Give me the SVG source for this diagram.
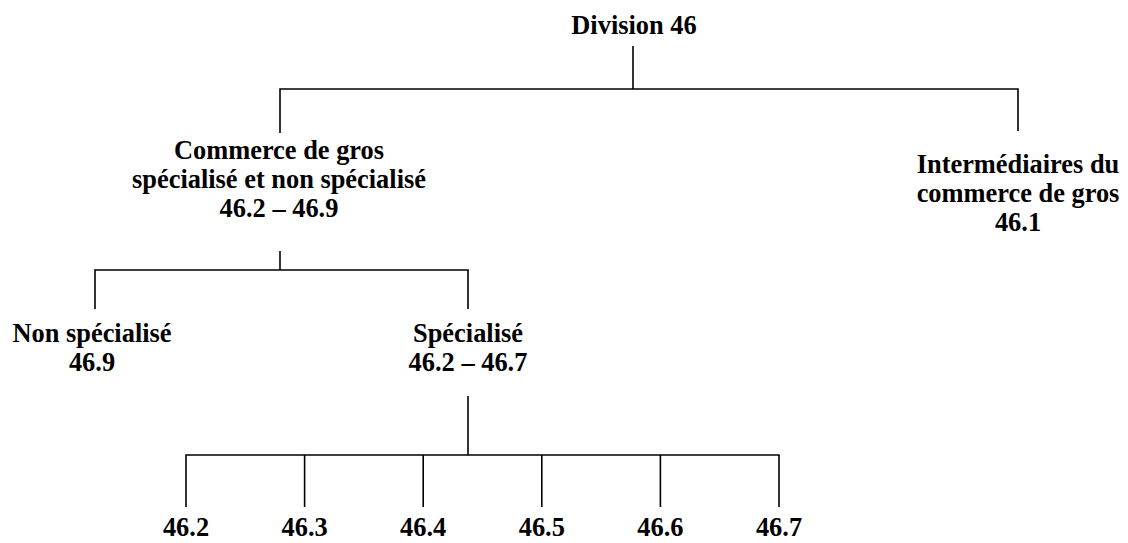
<svg xmlns="http://www.w3.org/2000/svg" width="1128" height="543" viewBox="0 0 1128 543">
  <style>
    .t { font-family: "Liberation Serif", "Times New Roman", serif; font-weight: bold; font-size: 26.4px; fill: #000; text-anchor: middle; }
    .c { stroke: #000; stroke-width: 1.6; fill: none; }
  </style>
  <rect width="1128" height="543" fill="#fff"/>
  <g id="connectors" class="c">
    <path d="M633 46 V89"/>
    <path d="M280 133 V89 H1018 V131"/>
    <path d="M280 251 V270"/>
    <path d="M95 309 V270 H468 V309"/>
    <path d="M468 396 V455"/>
    <path d="M186 507 V455 H779 V507"/>
    <path d="M304.6 455 V507"/>
    <path d="M423.2 455 V507"/>
    <path d="M541.8 455 V507"/>
    <path d="M660.4 455 V507"/>
  </g>
  <g id="division46"><text class="t" x="634" y="34">Division 46</text></g>
  <g id="commerce">
    <text class="t" x="279" y="159">Commerce de gros</text>
    <text class="t" x="279" y="188">spécialisé et non spécialisé</text>
    <text class="t" x="279" y="217">46.2 – 46.9</text>
  </g>
  <g id="intermediaires">
    <text class="t" x="1018" y="173">Intermédiaires du</text>
    <text class="t" x="1018" y="202">commerce de gros</text>
    <text class="t" x="1018" y="231">46.1</text>
  </g>
  <g id="nonspecialise">
    <text class="t" x="92" y="342">Non spécialisé</text>
    <text class="t" x="92" y="371">46.9</text>
  </g>
  <g id="specialise">
    <text class="t" x="468" y="342">Spécialisé</text>
    <text class="t" x="468" y="371">46.2 – 46.7</text>
  </g>
  <g id="n462"><text class="t" x="186" y="536">46.2</text></g>
  <g id="n463"><text class="t" x="304.6" y="536">46.3</text></g>
  <g id="n464"><text class="t" x="423.2" y="536">46.4</text></g>
  <g id="n465"><text class="t" x="541.8" y="536">46.5</text></g>
  <g id="n466"><text class="t" x="660.4" y="536">46.6</text></g>
  <g id="n467"><text class="t" x="779" y="536">46.7</text></g>
</svg>
